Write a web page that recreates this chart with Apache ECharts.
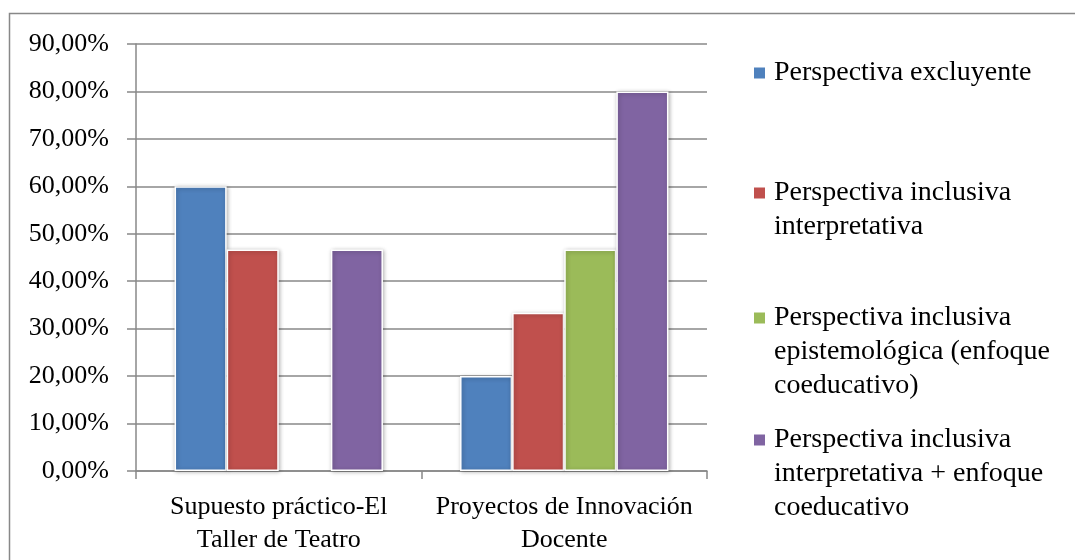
<!DOCTYPE html>
<html>
<head>
<meta charset="utf-8">
<script src="https://cdn.jsdelivr.net/npm/echarts@6/dist/echarts.min.js"></script>
<style>
html,body{margin:0;padding:0;background:#fff;}
#chart{width:1075px;height:560px;}
</style>
</head>
<body>
<div id="chart"></div>
<script>
const categories = ['Supuesto práctico-El\nTaller de Teatro', 'Proyectos de Innovación\nDocente'];
const seriesNames = [
  'Perspectiva excluyente',
  'Perspectiva inclusiva interpretativa',
  'Perspectiva inclusiva epistemológica (enfoque coeducativo)',
  'Perspectiva inclusiva interpretativa + enfoque coeducativo'
];
const legendLines = [
  ['Perspectiva excluyente'],
  ['Perspectiva inclusiva', 'interpretativa'],
  ['Perspectiva inclusiva', 'epistemológica (enfoque', 'coeducativo)'],
  ['Perspectiva inclusiva', 'interpretativa + enfoque', 'coeducativo']
];
const excluyente = [0.60, 0.2];
const inclusivaInterpretativa = [0.4667, 0.3333];
const inclusivaEpistemologica = [null, 0.4667];
const interpretativaCoeducativo = [0.4667, 0.80];
const yTicks = [0, 0.1, 0.2, 0.3, 0.4, 0.5, 0.6, 0.7, 0.8, 0.9];

const colors = ['#4F81BD', '#C0504D', '#9BBB59', '#8064A2'];
const values = [excluyente, inclusivaInterpretativa, inclusivaEpistemologica, interpretativaCoeducativo];
const FONT = 'Liberation Serif';

const chart = echarts.init(document.getElementById('chart'));
const legendTops = [56, 176, 301, 423];
const LH = 34;

const legends = seriesNames.map((name, i) => {
  const lines = legendLines[i];
  const n = lines.length;
  return {
    data: [name],
    orient: 'vertical',
    left: 752,
    top: legendTops[i] - (n - 1) * LH,
    padding: 0,
    itemWidth: 13,
    itemHeight: 13,
    itemGap: 0,
    icon: 'rect',
    selectedMode: false,
    formatter: function () {
      const pad = [];
      for (let k = 0; k < n - 1; k++) pad.push(' ');
      return pad.concat(lines).join('\n');
    },
    textStyle: {fontFamily: FONT, fontSize: 28, color: '#000', lineHeight: LH, padding: [0, 0, 0, 3]}
  };
});

chart.setOption({
  animation: false,
  backgroundColor: '#fff',
  color: colors,
  graphic: [{
    type: 'rect',
    shape: {x: 9.5, y: 13.5, width: 1100, height: 600},
    style: {fill: 'none', stroke: '#888', lineWidth: 1.5},
    silent: true
  }],
  grid: {left: 136, right: 368, top: 44, bottom: 89, containLabel: false},
  legend: legends,
  xAxis: {
    type: 'category',
    data: categories,
    axisLine: {lineStyle: {color: '#888', width: 1.5}},
    axisTick: {show: true, length: 8, lineStyle: {color: '#888', width: 1.5}},
    axisLabel: {interval: 0, fontFamily: FONT, fontSize: 26, color: '#000', lineHeight: 33, margin: 20}
  },
  yAxis: {
    type: 'value',
    min: 0,
    max: 0.9,
    interval: 0.1,
    axisLine: {show: true, lineStyle: {color: '#888', width: 1.5}},
    axisTick: {show: true, length: 9, lineStyle: {color: '#888', width: 1.5}},
    splitLine: {lineStyle: {color: '#888', width: 1.5}},
    axisLabel: {
      fontFamily: FONT, fontSize: 26, color: '#000', margin: 27,
      formatter: v => (v * 100).toFixed(2).replace('.', ',') + '%'
    }
  },
  series: seriesNames.map((name, i) => ({
    name: name,
    type: 'bar',
    data: values[i],
    barGap: '0%',
    barCategoryGap: '27%',
    itemStyle: {
      color: colors[i],
      borderColor: '#fff',
      borderWidth: 1.5,
      shadowColor: 'rgba(0,0,0,0.3)',
      shadowBlur: 4,
      shadowOffsetX: 1,
      shadowOffsetY: 1
    }
  }))
});
</script>
</body>
</html>
